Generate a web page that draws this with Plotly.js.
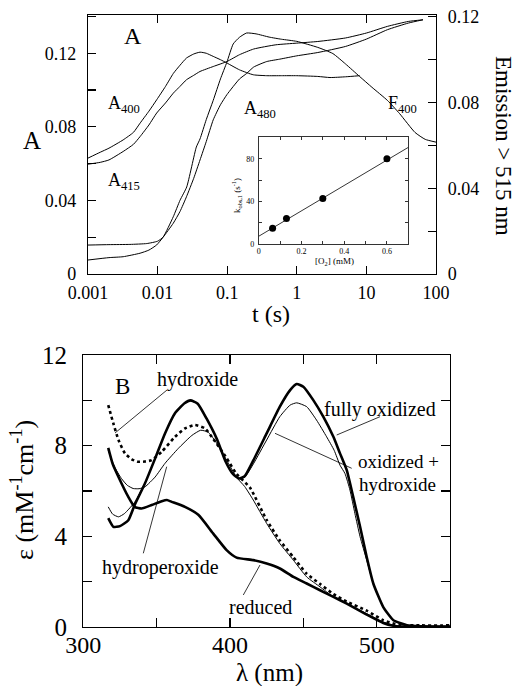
<!DOCTYPE html>
<html><head><meta charset="utf-8">
<script src="https://cdn.plot.ly/plotly-3.0.1.min.js"></script>
<style>html,body{margin:0;padding:0;background:#fff}#g{width:516px;height:686px}</style>
</head><body><div id="g"></div>
<script>
// ---------- Panel A data (time in s) ----------
const tA400 = [0.001,0.0015,0.002,0.0032,0.0045,0.0056,0.0075,0.0097,0.013,0.0168,0.021,0.026,0.033,0.0407,0.05,0.063,0.08,0.099,0.15,0.237,0.37,0.6,1,2,3,5,8];
const vA400 = [0.063,0.0662,0.0684,0.0729,0.077,0.082,0.0885,0.0947,0.102,0.109,0.1135,0.1174,0.1196,0.1206,0.12,0.1183,0.1165,0.1147,0.111,0.1083,0.1078,0.1078,0.1078,0.1074,0.1068,0.1072,0.1078];
const tA415 = [0.001,0.0015,0.002,0.0032,0.0045,0.0056,0.0075,0.0097,0.013,0.0168,0.021,0.026,0.033,0.0407,0.063,0.099,0.15,0.24,0.5,1,2,5,10,20,40,65];
const vA415 = [0.0597,0.0607,0.062,0.0666,0.0705,0.0747,0.081,0.0875,0.093,0.0983,0.102,0.1056,0.108,0.1101,0.1128,0.1155,0.1192,0.1223,0.1246,0.1255,0.1264,0.1283,0.131,0.1346,0.1373,0.1382];
const tA480 = [0.001,0.002,0.0032,0.0056,0.0075,0.0097,0.012,0.0168,0.021,0.026,0.033,0.0407,0.05,0.063,0.08,0.099,0.15,0.19,0.24,0.37,0.57,1,2,5,10,20,40,65];
const vA480 = [0.0076,0.0089,0.0094,0.0113,0.013,0.0158,0.02,0.0276,0.034,0.042,0.052,0.062,0.072,0.0838,0.092,0.0975,0.106,0.109,0.1125,0.1155,0.1168,0.1186,0.1204,0.1237,0.1277,0.1328,0.1364,0.1382];
const tF400 = [0.001,0.002,0.004,0.007,0.01,0.012,0.0168,0.021,0.0262,0.036,0.0407,0.05,0.063,0.08,0.099,0.122,0.15,0.19,0.26,0.4,0.6,1,2,3.3,5,8,12,20,30,50,70,100];
const vF400 = [0.0135,0.0137,0.0138,0.0142,0.0153,0.0172,0.0267,0.0344,0.0406,0.0592,0.063,0.072,0.081,0.091,0.0988,0.1073,0.1104,0.1124,0.112,0.1105,0.1095,0.1085,0.1057,0.1028,0.098,0.0921,0.0871,0.081,0.0748,0.066,0.0628,0.0615];
const tTicks = [0.001,0.01,0.1,1,10,100];
const tTickText = ['0.001','0.01','0.1','1','10','100'];
const aTicks = [0,0.02,0.04,0.06,0.08,0.10,0.12,0.14];
const aTickText = ['0','','0.04','','0.08','','0.12',''];
const eTicks = [0,0.02,0.04,0.06,0.08,0.10,0.12];
const eTickText = ['0','','0.04','','0.08','','0.12'];

// ---------- Inset data ----------
const o2 = [0.065,0.13,0.30,0.60];
const kobs = [15,24,42.8,80];
const fitO2 = [0,0.7];
const fitK = [7.5,90.6];
const inXTicks = [0,0.1,0.2,0.3,0.4,0.5,0.6,0.7];
const inXText = ['0','','0.2','','0.4','','0.6',''];
const inYTicks = [0,20,40,60,80,100];
const inYText = ['0','','40','','80',''];

// ---------- Panel B data (wavelength nm, epsilon mM-1 cm-1) ----------
const lOx = [317,320.5,325,330.7,335,342,349,355.7,362.5,369,373,378,384,391,397,402,406,410,416,425,434,441,445.5,450,456.8,463.6,470.5,475,479.6,484,488.7,493.2,497.7,504.5,511.4,520.5,530,550];
const eOx = [4.8,4.42,4.45,4.71,5.38,6.33,7.44,8.54,9.43,9.87,10.0,9.85,9.2,8.3,7.3,6.75,6.55,6.65,7.36,8.54,9.72,10.45,10.72,10.6,10.01,9.28,8.39,7.66,6.92,5.74,4.42,3.09,1.92,0.88,0.3,0.08,0.03,0.02];
const lOxOH = [317,320,324,328,331,335,338,342,349,355.7,362.5,369,373,378,384,391,397,402,406,410,416,425,434,441,445.5,452.3,459,465.9,471,475,478.4,481.8,485.2,488.7,493.2,497.7,504.5,511.4,520.5,530,550];
const eOxOH = [5.3,4.98,4.86,5.0,5.2,5.5,5.85,6.33,7.44,8.54,9.43,9.87,9.97,9.85,9.2,8.3,7.3,6.75,6.55,6.6,7.2,8.25,9.28,9.79,9.89,9.72,9.13,8.39,7.8,7.14,6.77,6.04,5.0,3.98,2.95,1.92,0.88,0.3,0.08,0.03,0.02];
const lOOH = [317,321,326,330,334,338,342,349,355.7,364.8,374,380,385,390,397.7,404.5,410,415.9,425,434,443.2,452.3,461.4,470.5,479.6,493.2,504.5,513.6,530,550];
const eOOH = [7.8,7.1,6.55,6.25,6.11,6.1,6.18,6.62,7.22,7.88,8.45,8.68,8.6,8.2,7.36,6.6,6.2,5.6,4.57,3.68,2.95,2.21,1.77,1.33,1.03,0.59,0.22,0.05,0.02,0.01];
const lOH = [317,320.5,324,328.4,333,337.5,342,346.6,353.4,362.5,369.3,376.2,383,388.6,397.7,404.5,413.6,425,434,443.2,452.3,461.4,470.5,479.6,493.2,504.5,515,530,550];
const eOH = [9.79,8.98,8.25,7.66,7.4,7.29,7.3,7.36,7.73,8.39,8.76,8.91,8.76,8.3,7.45,6.75,6.15,4.72,3.82,3.08,2.35,1.9,1.45,1.12,0.72,0.3,0.1,0.07,0.07];
const lRed = [317,320,324,330.7,335,339.8,346.6,353.5,357,360.3,369.3,378.4,388.6,397.7,404.5,415.9,425,434,443.2,452.3,461.4,470.5,479.6,493.2,504.5,513.6,530,550];
const eRed = [7.9,7.2,6.62,5.74,5.3,5.23,5.38,5.55,5.6,5.52,5.3,4.95,4.12,3.39,3.06,2.95,2.8,2.58,2.21,1.92,1.62,1.33,1.03,0.55,0.18,0.03,0.01,0.0];
const wTicks = [300,350,400,450,500,550];
const wTickText = ['300','','400','','500',''];
const epsTicks = [0,2,4,6,8,10,12];
const epsTickText = ['0','','4','','8','','12'];

// ---------- helpers ----------
const W = 516, H = 686;
const px = x => x / W, py = y => 1 - y / H;
const SERIF = 'Liberation Serif';
const thin = {color:'#000', width:1, shape:'spline', smoothing:0.5};
const thick = {color:'#000', width:2.6, shape:'spline', smoothing:0.5};

const traces = [
  {x:tA400, y:vA400, xaxis:'x', yaxis:'y', mode:'lines', line:thin},
  {x:tA415, y:vA415, xaxis:'x', yaxis:'y', mode:'lines', line:thin},
  {x:tA480, y:vA480, xaxis:'x', yaxis:'y', mode:'lines', line:thin},
  {x:tF400, y:vF400, xaxis:'x', yaxis:'y2', mode:'lines', line:thin},
  {x:fitO2, y:fitK, xaxis:'x3', yaxis:'y4', mode:'lines', line:{color:'#000', width:0.8}},
  {x:o2, y:kobs, xaxis:'x3', yaxis:'y4', mode:'markers', marker:{color:'#000', size:7}},
  {x:lOx, y:eOx, xaxis:'x2', yaxis:'y3', mode:'lines', line:thick},
  {x:lOxOH, y:eOxOH, xaxis:'x2', yaxis:'y3', mode:'lines', line:thin},
  {x:lOOH, y:eOOH, xaxis:'x2', yaxis:'y3', mode:'lines', line:thin},
  {x:lRed, y:eRed, xaxis:'x2', yaxis:'y3', mode:'lines', line:thick},
  {x:lOH, y:eOH, xaxis:'x2', yaxis:'y3', mode:'lines', line:{color:'#000', width:2.6, dash:'dot', shape:'spline', smoothing:0.5}}
];

const axBase = {showgrid:false, zeroline:false, showline:true, linecolor:'#000', linewidth:1.2,
  ticks:'inside', tickcolor:'#000', tickwidth:1.2, tickmode:'array', fixedrange:true};

function ann(text, x, y, size, extra) {
  return Object.assign({text:text, x:px(x), y:py(y), xref:'paper', yref:'paper', showarrow:false,
    xanchor:'center', yanchor:'middle', font:{family:SERIF, size:size, color:'#000'}}, extra || {});
}
function seg(x0, y0, x1, y1) {
  return {type:'line', xref:'paper', yref:'paper', x0:px(x0), y0:py(y0), x1:px(x1), y1:py(y1), line:{color:'#000', width:0.8}};
}

const layout = {
  width:W, height:H, margin:{l:0, r:0, t:0, b:0}, showlegend:false,
  paper_bgcolor:'#fff', plot_bgcolor:'rgba(0,0,0,0)',
  font:{family:SERIF, color:'#000'},
  xaxis: Object.assign({}, axBase, {type:'log', domain:[px(88), px(436)], range:[-3, 2], anchor:'y',
    tickvals:tTicks, ticktext:tTickText, mirror:'ticks', ticklen:8, tickfont:{size:18, family:SERIF}, ticklabelstandoff:2}),
  yaxis: Object.assign({}, axBase, {domain:[py(274), py(15)], range:[0, 0.1408], anchor:'x',
    tickvals:aTicks, ticktext:aTickText, ticklen:8, tickfont:{size:18, family:SERIF}, ticklabelstandoff:7}),
  yaxis2: Object.assign({}, axBase, {overlaying:'y', side:'right', range:[0, 0.1208], anchor:'x',
    tickvals:eTicks, ticktext:eTickText, ticklen:8, tickfont:{size:18, family:SERIF}, ticklabelstandoff:7}),
  xaxis2: Object.assign({}, axBase, {domain:[px(83.3), px(450)], range:[300, 550], anchor:'y3',
    tickvals:wTicks, ticktext:wTickText, mirror:'ticks', ticklen:9, tickfont:{size:24, family:SERIF}, ticklabelstandoff:-4}),
  yaxis3: Object.assign({}, axBase, {domain:[py(627), py(355)], range:[0, 12], anchor:'x2',
    tickvals:epsTicks, ticktext:epsTickText, mirror:'ticks', ticklen:9, tickfont:{size:25, family:SERIF}, ticklabelstandoff:10}),
  xaxis3: Object.assign({}, axBase, {domain:[px(258.7), px(408.3)], range:[0, 0.7], anchor:'y4', linewidth:0.8, tickwidth:0.8,
    tickvals:inXTicks, ticktext:inXText, mirror:'ticks', ticklen:3, tickfont:{size:8, family:SERIF}, ticklabelstandoff:-1}),
  yaxis4: Object.assign({}, axBase, {domain:[py(244.3), py(137.3)], range:[0, 100], anchor:'x3', linewidth:0.8, tickwidth:0.8,
    tickvals:inYTicks, ticktext:inYText, mirror:'ticks', ticklen:3, tickfont:{size:8, family:SERIF}, ticklabelstandoff:2}),
  shapes: [
    {type:'rect', xref:'paper', yref:'paper', x0:px(258.7), x1:px(408.3), y0:py(244.3), y1:py(137.3), fillcolor:'#fff', line:{width:0}, layer:'below'},
    seg(167, 390, 115, 433),
    seg(380, 416.7, 336.7, 435),
    seg(351.7, 468.3, 275, 433.3),
    seg(166.7, 466.7, 143.3, 553.3),
    seg(260, 565, 243.3, 595)
  ],
  annotations: [
    ann('A', 133, 36, 24),
    ann('A', 32, 140, 25),
    ann('A<sub>400</sub>', 124, 104, 18),
    ann('A<sub>415</sub>', 124, 181, 18),
    ann('A<sub>480</sub>', 260, 110, 18),
    ann('F<sub>400</sub>', 402, 104, 18),
    ann('t (s)', 271, 314, 24),
    ann('Emission &gt; 515 nm', 503, 146, 23, {textangle:90}),
    ann('k<sub>obs,1</sub> (s<sup>-1</sup>)', 236, 196, 9, {textangle:-90}),
    ann('[O<sub>2</sub>] (mM)', 334, 261, 9),
    ann('B', 122, 386, 23),
    ann('hydroxide', 197, 379, 20),
    ann('fully oxidized', 380, 409, 20),
    ann('oxidized +', 398, 461, 19),
    ann('hydroxide', 397, 484, 19),
    ann('hydroperoxide', 160, 567, 20),
    ann('reduced', 260, 607, 20),
    ann('λ (nm)', 269, 673, 25),
    ann('ε (mM<sup>-1</sup>cm<sup>-1</sup>)', 22, 490, 26, {textangle:-90})
  ]
};

Plotly.newPlot('g', traces, layout, {staticPlot:true, displayModeBar:false});
</script>
</body></html>
